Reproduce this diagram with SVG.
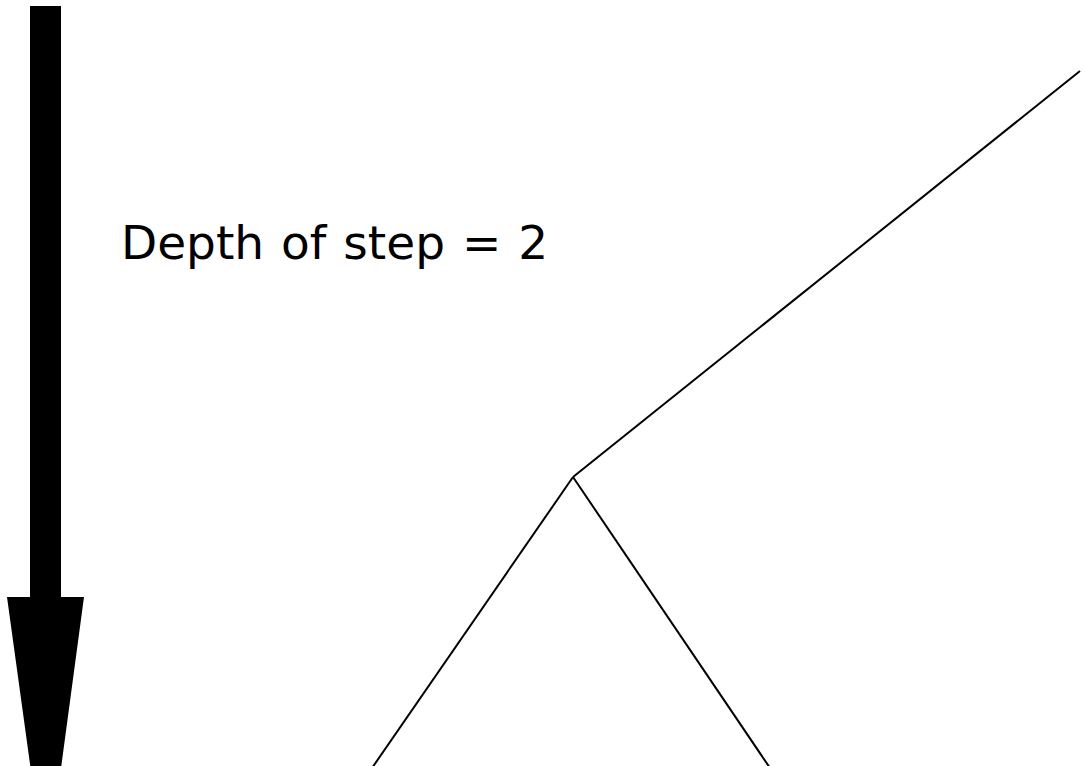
<svg xmlns="http://www.w3.org/2000/svg" width="1085" height="766" viewBox="0 0 1085 766">
<style>
.edge{stroke:#000;stroke-width:2;fill:none}
.lbl{font-family:"DejaVu Sans",Verdana,sans-serif;font-size:47px;fill:#000;word-spacing:2px}
</style>
<rect width="1085" height="766" fill="#fff"/>
<g id="depth-arrow">
<polygon points="30,6 61,6 61,597 84,597 46,880 7,597 30,597" fill="#000"/>
</g>
<g id="label">
<text class="lbl" x="121" y="259">Depth of step = 2</text>
</g>
<g id="connectors">
<line class="edge" x1="573" y1="477" x2="1080" y2="71"/>
<line class="edge" x1="573" y1="477" x2="372" y2="768"/>
<line class="edge" x1="573" y1="477" x2="770" y2="768"/>
</g>
</svg>
